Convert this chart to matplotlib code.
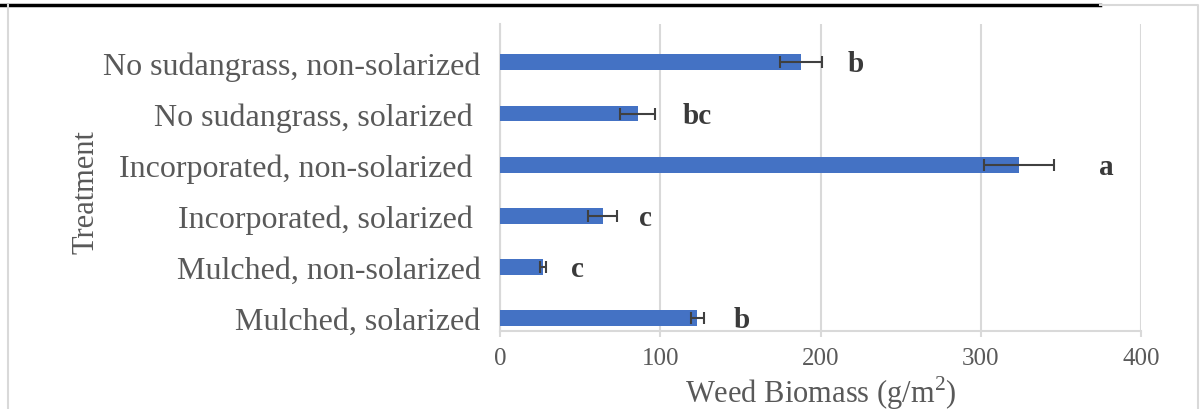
import matplotlib
matplotlib.use("Agg")
from matplotlib import pyplot as plt
from matplotlib.lines import Line2D

treatments = ["No sudangrass, non-solarized", "No sudangrass, solarized ",
              "Incorporated, non-solarized ", "Incorporated, solarized ",
              "Mulched, non-solarized", "Mulched, solarized"]
biomass = [188, 86, 324, 64, 27, 123]  # g/m2
std_err = [13, 11, 22, 9, 2, 4]  # g/m2
letters = ["b", "bc", "a", "c", "c", "b"]
letter_x = [217, 114, 374, 87, 44, 146]  # where the letters sit, g/m2
x_ticks = [0, 100, 200, 300, 400]

plt.rcParams["font.family"] = ["Liberation Serif", "DejaVu Serif"]
plt.rcParams["mathtext.fontset"] = "custom"
plt.rcParams["mathtext.rm"] = "Liberation Serif"

grey_text = "#595959"
grid_col = "#d9d9d9"

fig = plt.figure(figsize=(12, 4.1), dpi=100)
ax = fig.add_axes([500 / 1200, 1 - 332 / 410, 641 / 1200, 307 / 410])

ypos = [len(treatments) - 1 - i for i in range(len(treatments))]
ax.barh(ypos, biomass, height=0.31, color="#4472c4", xerr=std_err,
        error_kw=dict(ecolor="#404040", elinewidth=1.5, capsize=4.5, capthick=1.5),
        zorder=3)

for i in range(len(treatments)):
    ax.text(letter_x[i], ypos[i] - 0.03, letters[i], fontsize=21, fontweight="bold",
            color="#3a3a3a", ha="left", va="center")

ax.set_xlim(0, 400)
ax.set_ylim(-0.25, 5.75)
ax.set_xticks(x_ticks)
ax.set_xticklabels([str(t) for t in x_ticks])
ax.set_yticks(ypos)
ax.set_yticklabels(treatments)

ax.xaxis.grid(True, color=grid_col, linewidth=1.5)
ax.set_axisbelow(True)
for side in ["top", "right"]:
    ax.spines[side].set_visible(False)
for side in ["bottom", "left"]:
    ax.spines[side].set_color(grid_col)
    ax.spines[side].set_linewidth(1.5)

ax.tick_params(axis="x", direction="out", length=4.5, width=1.5, color=grid_col,
               labelsize=18, labelcolor=grey_text, pad=7)
ax.tick_params(axis="y", length=0, labelsize=23, labelcolor=grey_text, pad=14)

ax.set_xlabel(r"Weed Biomass (g/m$^{2}$)", fontsize=22, color=grey_text, labelpad=3)
fig.text(86 / 1200, 1 - 192 / 410, "Treatment", rotation=90, fontsize=22,
         color=grey_text, ha="center", va="center")

# page frame around the chart
fig.add_artist(Line2D([0, 1100 / 1200], [1 - 5.5 / 410] * 2, color="black",
                      linewidth=2.5, transform=fig.transFigure))
fig.add_artist(Line2D([8 / 1200, 8 / 1200], [0, 1 - 6 / 410], color=grid_col,
                      linewidth=1.5, transform=fig.transFigure))
fig.add_artist(Line2D([1100 / 1200, 1198 / 1200, 1198 / 1200], [1 - 6 / 410, 1 - 6 / 410, 0],
                      color=grid_col, linewidth=1.5, transform=fig.transFigure))

fig.savefig("out.png", dpi=100)
